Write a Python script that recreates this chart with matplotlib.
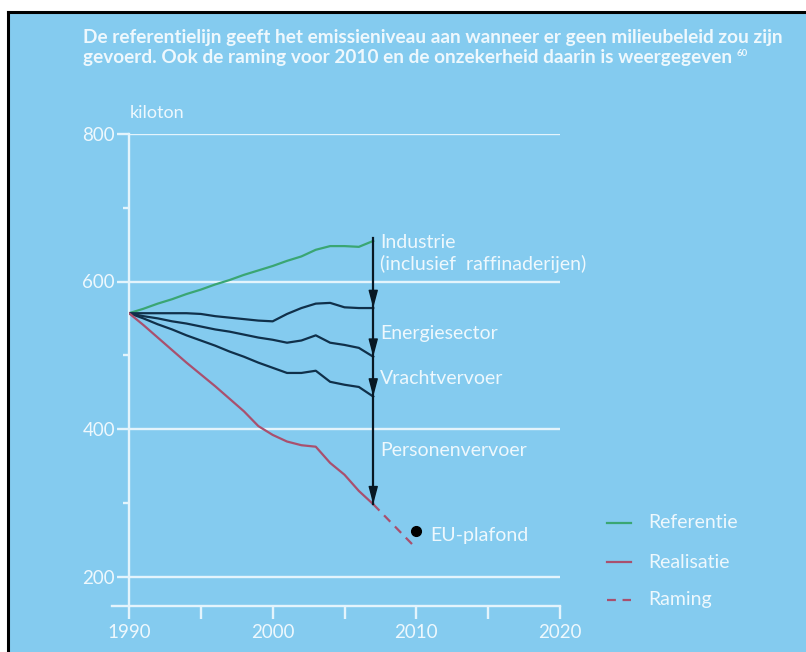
import matplotlib
matplotlib.use("Agg")
import matplotlib.pyplot as plt
from matplotlib.lines import Line2D
from matplotlib.patches import Rectangle

plt.rcParams['font.family'] = ['Lato', 'DejaVu Sans']

# data (kiloton)
years = list(range(1990, 2008))
referentie = [557, 563, 570, 576, 583, 589, 596, 602, 609, 615, 621, 628, 634, 643, 648, 648, 647, 655]
na_industrie = [557, 557, 557, 557, 557, 556, 553, 551, 549, 547, 546, 556, 564, 570, 571, 565, 564, 564]
na_energie = [557, 553, 550, 546, 543, 539, 535, 532, 528, 524, 521, 517, 520, 527, 517, 514, 510, 498]
na_vracht = [557, 550, 542, 535, 527, 520, 513, 505, 498, 490, 483, 476, 476, 479, 464, 460, 457, 444]
realisatie = [557, 541, 524, 507, 490, 474, 458, 441, 424, 404, 392, 383, 378, 376, 354, 338, 316, 298]
raming_years = [2007, 2010]
raming = [298, 238]
eu_plafond_year = 2010
eu_plafond = 262
arrow_top = 659
sector_labels = ["Industrie\n(inclusief  raffinaderijen)", "Energiesector", "Vrachtvervoer", "Personenvervoer"]

BG = '#84cbef'
WHITE = '#eef8fd'
GRID = '#e4f4fc'
GREEN = '#3aa673'
RED = '#a9506e'
NAVY = '#10304a'

W, H = 806, 652
fig = plt.figure(figsize=(W / 100, H / 100), dpi=100)
fig.patch.set_facecolor('white')
fig.add_artist(Rectangle((9 / W, 0), 1, 1 - 13 / H, transform=fig.transFigure, facecolor=BG, edgecolor='none', zorder=0))
fig.add_artist(Line2D([8 / W, 8 / W], [0, 1 - 12 / H], transform=fig.transFigure, color='black', lw=2.2))
fig.add_artist(Line2D([8 / W, 1], [1 - 12 / H, 1 - 12 / H], transform=fig.transFigure, color='black', lw=2.2))


def fx(px):
    return px / W


def fy(py):
    return 1 - py / H


ax = fig.add_axes([fx(129), fy(606), (560 - 129) / W, (606 - 134) / H])
ax.set_facecolor('none')
ax.set_xlim(1990, 2020)
ax.set_ylim(160, 800)
for s in ['top', 'right', 'bottom']:
    ax.spines[s].set_visible(False)
ax.spines['left'].set_color(GRID)
ax.spines['left'].set_linewidth(1.7)

ax.set_yticks([200, 400, 600, 800])
ax.set_yticks([300, 500, 700], minor=True)
ax.set_xticks(range(1990, 2021, 5))
ax.set_xticklabels(['1990', '', '2000', '', '2010', '', '2020'])
ax.tick_params(axis='y', which='major', length=9, width=1.7, color=GRID, labelcolor=WHITE, labelsize=13.5, pad=1)
ax.tick_params(axis='y', which='minor', length=4, width=1.7, color=GRID)
ax.tick_params(axis='x', length=9, width=1.7, color=GRID, labelcolor=WHITE, labelsize=13.5, pad=4)
for v in [200, 400, 600, 800]:
    ax.axhline(v, color=GRID, lw=1.7, zorder=1)
ax.plot([1988.8, 2020], [160, 160], color=GRID, lw=1.7, clip_on=False, zorder=1)

ax.plot(years, referentie, color=GREEN, lw=1.6, zorder=3)
ax.plot(years, na_industrie, color=NAVY, lw=1.6, zorder=3)
ax.plot(years, na_energie, color=NAVY, lw=1.6, zorder=3)
ax.plot(years, na_vracht, color=NAVY, lw=1.6, zorder=3)
ax.plot(years, realisatie, color=RED, lw=1.6, zorder=3)
ax.plot(raming_years, raming, color=RED, lw=1.6, ls=(0, (4, 3)), zorder=3)
ax.plot([eu_plafond_year], [eu_plafond], 'o', color='black', ms=7, zorder=4)

# reduction arrow at 2007
ax.plot([2007, 2007], [arrow_top, realisatie[-1]], color='#081824', lw=1.6, zorder=4)
for v in [na_industrie[-1], na_energie[-1], na_vracht[-1], realisatie[-1]]:
    ax.annotate('', xy=(2007, v), xytext=(2007, v + 30),
                arrowprops=dict(arrowstyle='-|>,head_length=0.9,head_width=0.24', color='#081824',
                                lw=1.0, mutation_scale=12, shrinkA=0, shrinkB=0), zorder=5)

lbl = dict(color=WHITE, fontsize=14, va='center', ha='left')
ax.text(2007.5, 638, sector_labels[0], linespacing=1.2, **lbl)
ax.text(2007.5, 530, sector_labels[1], **lbl)
ax.text(2007.5, 469, sector_labels[2], **lbl)
ax.text(2007.5, 371, sector_labels[3], **lbl)
ax.text(2010.95, 256, 'EU-plafond', **lbl)

t = fig.text(fx(83), fy(38), 'De referentielijn geeft het emissieniveau aan wanneer er geen milieubeleid zou zijn',
             color=WHITE, fontsize=13.7, fontweight='bold', va='center')
t2 = fig.text(fx(83), fy(58), 'gevoerd. Ook de raming voor 2010 en de onzekerheid daarin is weergegeven',
              color=WHITE, fontsize=13.7, fontweight='bold', va='center')
ax.annotate('60', xy=(1, 0.75), xycoords=t2, xytext=(3, 0), textcoords='offset points',
            color=WHITE, fontsize=7, fontweight='bold', va='center', ha='left')
fig.text(fx(130), fy(113), 'kiloton', color=WHITE, fontsize=13, va='center')

# legend
leg = [('Referentie', GREEN, '-', 523), ('Realisatie', RED, '-', 562), ('Raming', RED, (0, (4, 3)), 600)]
for name, col, ls, py in leg:
    fig.add_artist(Line2D([fx(607), fx(631)], [fy(py), fy(py)], transform=fig.transFigure, color=col, lw=1.6, ls=ls))
    fig.text(fx(648), fy(py), name, color=WHITE, fontsize=14, va='center')

fig.savefig('out.png', dpi=100, facecolor=fig.get_facecolor())
